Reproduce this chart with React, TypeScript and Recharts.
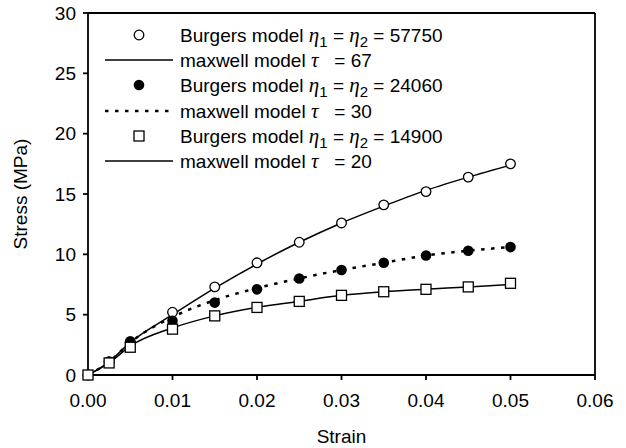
import { LineChart, Line, XAxis, YAxis, ReferenceLine } from "recharts";

// strain points shared by all series
const strain = [0, 0.0025, 0.005, 0.01, 0.015, 0.02, 0.025, 0.03, 0.035, 0.04, 0.045, 0.05];

// Burgers model (markers)
const burgers57750 = [0, 1.1, 2.7, 5.2, 7.3, 9.3, 11.0, 12.6, 14.1, 15.2, 16.4, 17.5];
const burgers24060 = [0, 1.1, 2.8, 4.5, 6.0, 7.1, 8.0, 8.7, 9.3, 9.9, 10.3, 10.6];
const burgers14900 = [0, 1.0, 2.3, 3.8, 4.9, 5.6, 6.1, 6.6, 6.9, 7.1, 7.3, 7.6];

// maxwell model (lines)
const maxwell67 = [0, 1.1, 2.7, 5.0, 7.2, 9.2, 11.0, 12.6, 14.0, 15.3, 16.4, 17.4];
const maxwell30 = [0, 1.1, 2.7, 4.8, 6.2, 7.2, 8.0, 8.7, 9.3, 9.9, 10.3, 10.6];
const maxwell20 = [0, 1.0, 2.4, 3.9, 4.9, 5.6, 6.1, 6.6, 6.9, 7.1, 7.3, 7.5];

const xTicks = [0, 0.01, 0.02, 0.03, 0.04, 0.05, 0.06];
const yTicks = [0, 5, 10, 15, 20, 25, 30];

const data = strain.map((s, i) => ({
  strain: s,
  b1: burgers57750[i],
  b2: burgers24060[i],
  b3: burgers14900[i],
  m1: maxwell67[i],
  m2: maxwell30[i],
  m3: maxwell20[i],
}));

const FONT = "'Liberation Sans', Arial, sans-serif";
const SERIF = "'Liberation Serif', 'Times New Roman', serif";
const DOTTED = "3.5 6.5";

const OpenDot = (p: any) => (
  <circle key={p.index} cx={p.cx} cy={p.cy} r={4.8} fill="#fff" stroke="#000" strokeWidth={1.3} />
);
const FilledDot = (p: any) => <circle key={p.index} cx={p.cx} cy={p.cy} r={5.3} fill="#000" />;
const SquareDot = (p: any) => (
  <rect key={p.index} x={p.cx - 5} y={p.cy - 5} width={10} height={10} fill="#fff" stroke="#000" strokeWidth={1.3} />
);

const Eta = ({ sub }: { sub: string }) => (
  <>
    <span style={{ fontFamily: SERIF, fontStyle: "italic", fontSize: 21 }}>η</span>
    <span style={{ fontSize: 15, position: "relative", top: 5 }}>{sub}</span>
  </>
);

const Tau = () => <span style={{ fontFamily: SERIF, fontStyle: "italic", fontSize: 21 }}>τ</span>;

const burgersLabel = (v: string) => (
  <>
    Burgers model <Eta sub="1" /> = <Eta sub="2" /> = {v}
  </>
);
const maxwellLabel = (v: string) => (
  <>
    maxwell model <Tau />
    {"   = "}
    {v}
  </>
);

const legendRows = [
  { sym: "open", label: burgersLabel("57750") },
  { sym: "solid", label: maxwellLabel("67") },
  { sym: "filled", label: burgersLabel("24060") },
  { sym: "dotted", label: maxwellLabel("30") },
  { sym: "square", label: burgersLabel("14900") },
  { sym: "solid", label: maxwellLabel("20") },
];

const Symbol = ({ sym }: { sym: string }) => (
  <svg width={80} height={26} style={{ position: "absolute", left: 100, top: 0 }}>
    {sym === "open" && <circle cx={39} cy={13} r={4.8} fill="#fff" stroke="#000" strokeWidth={1.3} />}
    {sym === "filled" && <circle cx={39} cy={13} r={5.3} fill="#000" />}
    {sym === "square" && <rect x={34} y={8} width={10} height={10} fill="#fff" stroke="#000" strokeWidth={1.3} />}
    {sym === "solid" && <line x1={5} x2={73} y1={13} y2={13} stroke="#000" strokeWidth={1.5} />}
    {sym === "dotted" && (
      <line x1={5} x2={73} y1={13} y2={13} stroke="#000" strokeWidth={2.5} strokeDasharray={DOTTED} />
    )}
  </svg>
);

export default function App() {
  return (
    <div style={{ position: "relative", width: 626, height: 448, fontFamily: FONT, background: "#fff" }}>
      <style>{"body{margin:0}"}</style>
      <LineChart width={626} height={448} data={data} margin={{ top: 13, right: 31, bottom: 28, left: 28 }}>
        <XAxis
          dataKey="strain"
          type="number"
          domain={[0, 0.06]}
          ticks={xTicks}
          tickFormatter={(v: number) => v.toFixed(2)}
          height={45}
          tickSize={5}
          tickMargin={14}
          stroke="#000"
          strokeWidth={1.8}
          tick={{ fill: "#000", fontSize: 19, fontFamily: FONT }}
          label={{ value: "Strain", position: "bottom", offset: 10, fill: "#000", fontSize: 19, fontFamily: FONT }}
        />
        <YAxis
          type="number"
          domain={[0, 30]}
          ticks={yTicks}
          width={60}
          tickSize={5}
          tickMargin={7}
          stroke="#000"
          strokeWidth={1.8}
          tick={{ fill: "#000", fontSize: 19, fontFamily: FONT }}
          label={{
            value: "Stress (MPa)",
            angle: -90,
            position: "insideLeft",
            offset: -8,
            fill: "#000",
            fontSize: 19,
            fontFamily: FONT,
            style: { textAnchor: "middle" },
          }}
        />
        <ReferenceLine y={30} stroke="#000" strokeWidth={1.8} />
        <ReferenceLine x={0.06} stroke="#000" strokeWidth={1.8} />
        <Line type="monotone" dataKey="m1" stroke="#000" strokeWidth={1.5} dot={false} isAnimationActive={false} />
        <Line
          type="monotone"
          dataKey="m2"
          stroke="#000"
          strokeWidth={2.5}
          strokeDasharray={DOTTED}
          dot={false}
          isAnimationActive={false}
        />
        <Line type="monotone" dataKey="m3" stroke="#000" strokeWidth={1.5} dot={false} isAnimationActive={false} />
        <Line dataKey="b1" stroke="none" dot={OpenDot} isAnimationActive={false} />
        <Line dataKey="b2" stroke="none" dot={FilledDot} isAnimationActive={false} />
        <Line dataKey="b3" stroke="none" dot={SquareDot} isAnimationActive={false} />
      </LineChart>
      {legendRows.map((r, i) => (
        <div
          key={i}
          style={{
            position: "absolute",
            left: 0,
            top: 22 + i * 25.2,
            width: 500,
            height: 26,
            fontSize: 19,
            lineHeight: "26px",
            color: "#000",
            whiteSpace: "pre",
          }}
        >
          <Symbol sym={r.sym} />
          <span style={{ position: "absolute", left: 180, top: 0 }}>{r.label}</span>
        </div>
      ))}
    </div>
  );
}
